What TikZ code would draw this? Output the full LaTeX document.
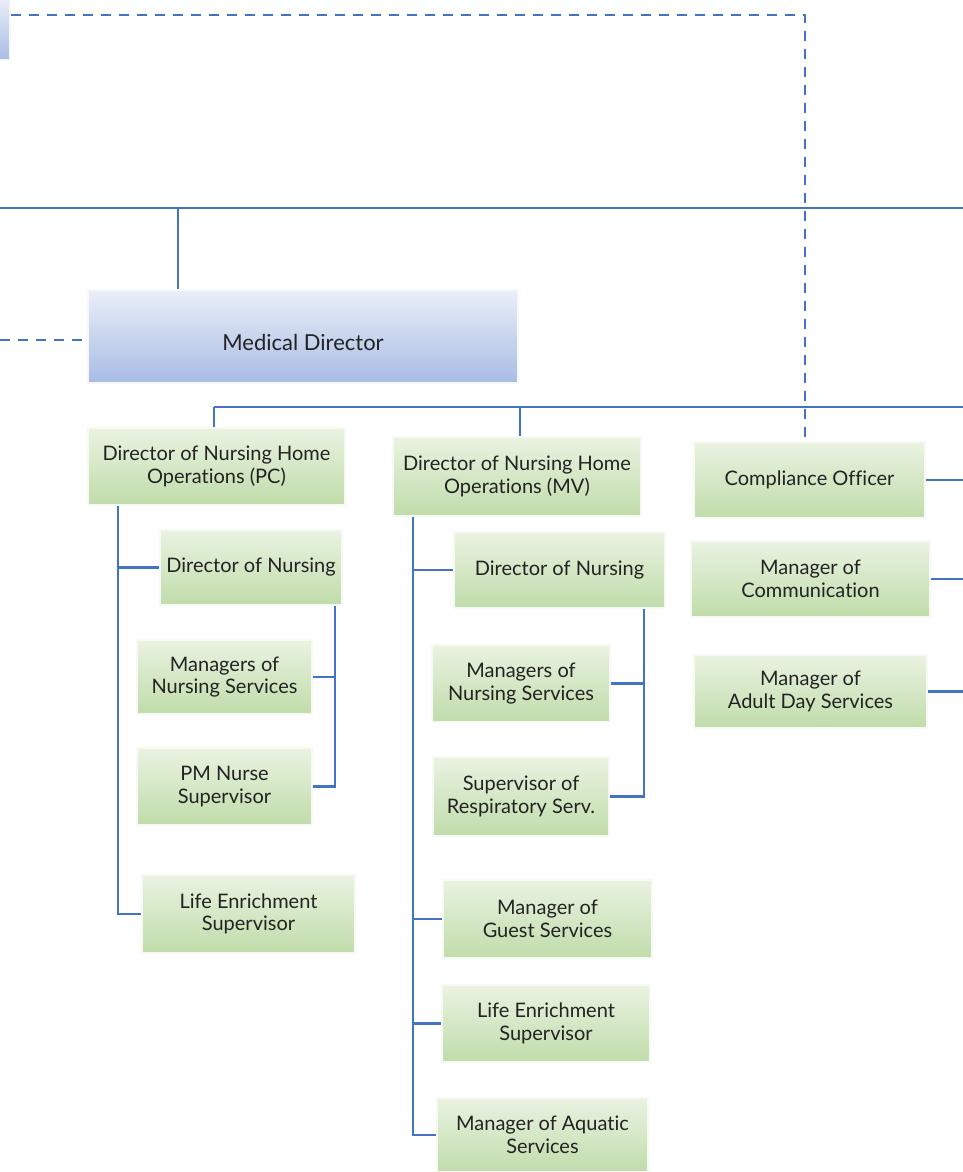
\documentclass[tikz,border=0pt]{standalone}
\usepackage{fontspec}
\setmainfont{Lato}[Ligatures=NoCommon]
\usepackage{tikz}
\usetikzlibrary{calc,positioning}
\definecolor{linkblue}{RGB}{68,114,196}
\definecolor{greentop}{RGB}{234,243,226}
\definecolor{greenbot}{RGB}{192,220,170}
\definecolor{bluetop}{RGB}{234,238,248}
\definecolor{bluebot}{RGB}{168,188,228}
\definecolor{inkgray}{RGB}{35,35,35}
\tikzset{
  greenbox/.style={rectangle,top color=greentop,bottom color=greenbot,
    draw=greentop!40!white,line width=1.2pt,align=center,inner sep=2pt,
    text=inkgray,font=\fontsize{20}{22.5}\selectfont},
  bluebox/.style={rectangle,top color=bluetop,bottom color=bluebot,
    draw=bluetop!40!white,line width=1.2pt,align=center,inner sep=2pt,
    text=inkgray,font=\fontsize{22}{24}\selectfont},
  link/.style={draw=linkblue,line width=2.4pt},
  dotlink/.style={draw=linkblue,line width=2.4pt,dash pattern=on 10pt off 8pt}
}
\begin{document}
\begin{tikzpicture}[x=1pt,y=-1pt]
  \useasboundingbox (0,0) rectangle (963,1172);
  % boxes
  \node[bluebox,minimum width=220,minimum height=62] (top) at (-100,29) {};
  \node[bluebox,minimum width=430,minimum height=93] (med) at (303,336.5) {\raisebox{-14pt}[0pt][0pt]{Medical Director}};
  \node[greenbox,minimum width=257,minimum height=77] (pc) at (216.5,466.5) {Director of Nursing Home\\Operations (PC)};
  \node[greenbox,minimum width=182,minimum height=75] (pcdon) at (251,567.5) {Director of Nursing};
  \node[greenbox,minimum width=175,minimum height=74] (pcmgr) at (224.5,677) {Managers of\\Nursing Services};
  \node[greenbox,minimum width=175,minimum height=77] (pcpm) at (224.5,786.5) {PM Nurse\\Supervisor};
  \node[greenbox,minimum width=213,minimum height=78] (pclife) at (248.5,914) {Life Enrichment\\Supervisor};
  \node[greenbox,minimum width=248,minimum height=79] (mv) at (517,476.5) {Director of Nursing Home\\Operations (MV)};
  \node[greenbox,minimum width=211,minimum height=76] (mvdon) at (559.5,570) {Director of Nursing};
  \node[greenbox,minimum width=178,minimum height=77] (mvmgr) at (521,683.5) {Managers of\\Nursing Services};
  \node[greenbox,minimum width=176,minimum height=79] (mvresp) at (521,796.5) {Supervisor of\\Respiratory Serv.};
  \node[greenbox,minimum width=209,minimum height=78] (mvguest) at (547.5,919) {Manager of\\Guest Services};
  \node[greenbox,minimum width=208,minimum height=77] (mvlife) at (546,1023.5) {Life Enrichment\\Supervisor};
  \node[greenbox,minimum width=211,minimum height=74] (mvaqua) at (542.5,1135) {Manager of Aquatic\\Services};
  \node[greenbox,minimum width=231,minimum height=76] (comp) at (809.5,480) {Compliance Officer};
  \node[greenbox,minimum width=239,minimum height=76] (comm) at (810.5,579) {Manager of\\Communication};
  \node[greenbox,minimum width=233,minimum height=73] (adult) at (810.5,691.5) {Manager of\\Adult Day Services};
  % free ends and turning points
  \coordinate (edger) at (963,0);
  \coordinate (turn) at (805,15);
  \coordinate (rail) at (0,208);
  \coordinate (medtap) at (178,208);
  \coordinate (medside) at (0,340);
  \coordinate (bus) at (214,407);
  \coordinate (mvtap) at (520,407);
  \coordinate (pctrunk) at (118,0);
  \coordinate (pcside) at (335,0);
  \coordinate (mvtrunk) at (413,0);
  \coordinate (mvside) at (644,0);
  % connectors
  \draw[dotlink] (top.east|-turn) -- (turn) -- (turn|-comp.north);
  \draw[dotlink] (medside) -- (medside-|med.west);
  \draw[link] (rail) -- (rail-|edger);
  \draw[link] (medtap) -- (medtap|-med.north);
  \draw[link] (bus) -- (bus-|edger);
  \draw[link] (bus) -- (bus|-pc.north);
  \draw[link] (mvtap) -- (mvtap|-mv.north);
  \draw[link] (pc.south-|pctrunk) -- (pclife.west-|pctrunk) -- (pclife.west);
  \draw[link] (pcdon.west-|pctrunk) -- (pcdon.west);
  \draw[link] (pcdon.south-|pcside) -- (pcpm.east-|pcside) -- (pcpm.east);
  \draw[link] (pcmgr.east) -- (pcmgr.east-|pcside);
  \draw[link] (mv.south-|mvtrunk) -- (mvaqua.west-|mvtrunk) -- (mvaqua.west);
  \draw[link] (mvdon.west-|mvtrunk) -- (mvdon.west);
  \draw[link] (mvguest.west-|mvtrunk) -- (mvguest.west);
  \draw[link] (mvlife.west-|mvtrunk) -- (mvlife.west);
  \draw[link] (mvdon.south-|mvside) -- (mvresp.east-|mvside) -- (mvresp.east);
  \draw[link] (mvmgr.east) -- (mvmgr.east-|mvside);
  \draw[link] (comp.east) -- (comp.east-|edger);
  \draw[link] (comm.east) -- (comm.east-|edger);
  \draw[link] (adult.east) -- (adult.east-|edger);
\end{tikzpicture}
\end{document}
